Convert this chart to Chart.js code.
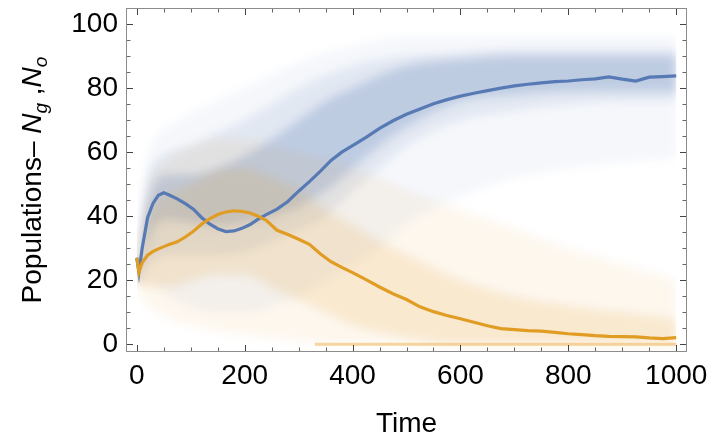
<!DOCTYPE html>
<html>
<head>
<meta charset="utf-8">
<script src="https://cdn.jsdelivr.net/npm/chart.js@4.4.1/dist/chart.umd.min.js"></script>
<style>
  html,body{margin:0;padding:0;background:#fff;}
  #wrap{width:722px;height:448px;position:relative;}
</style>
</head>
<body>
<div id="wrap"><canvas id="c" width="722" height="448"></canvas></div>
<script>
// ---- data ----
const times = [0,4,10,20,30,40,50,60,75,90,105,120,135,150,165,180,195,210,225,240,260,280,300,320,340,360,380,400,425,450,475,500,525,550,575,600,625,650,675,700,725,750,775,800,825,850,875,900,925,950,975,1000];
const ngMean = [27,22.5,30,39.5,44,46.5,47.3,46.6,45.4,43.9,42.2,39.6,37.6,36.1,35.2,35.4,36.2,37.4,39.1,40.5,42.2,44.6,47.8,50.8,54,57.4,60,62,64.6,67.4,69.8,71.8,73.5,75.1,76.4,77.5,78.4,79.2,80,80.7,81.2,81.6,82,82.2,82.6,82.9,83.5,82.8,82.2,83.4,83.6,83.8];
const noMean = [27,22.5,25.5,27.8,29,29.8,30.5,31.2,32,33.5,35.3,37.5,39.2,40.5,41.3,41.7,41.5,41,40,38.7,35.6,34.3,32.8,31.2,28.3,25.8,24,22.4,20.2,17.9,15.8,14,11.7,10.2,9,8,6.9,5.8,4.9,4.6,4.3,4.1,3.7,3.3,3,2.7,2.5,2.4,2.3,2.0,1.8,2.1];

const bandT        = [0,5,10,20,40,60,100,150,200,250,300,350,400,450,500,600,700,800,900,1000];
const blueOuterLo  = [18,18,20,20,18,15,12,10,10,12,15,20,25,30,38,46,52,55,57,58];
const blueOuterHi  = [28,30,45,58,66,68,72,76,80,84,88,91,93,95,96,96,96,96,96,96];
const blueMidLo    = [19,19,24,25,27,28,28,28,29,32,36,40,48,55,62,70,73,75,76,76];
const blueMidHi    = [27,28,40,52,58,60,62,66,70,75,80,84,87,89,90,91,92,92,92,92];
const blueCoreLo   = [20,20,26,32,38,39,38,37,38,40,43,48,55,62,68,76,78,79,79,79];
const blueCoreHi   = [26,27,34,44,52,53,53,55,59,64,70,76,80,84,87,89,90,90,90,90];
const orangeOuterLo= [18,17,15,12,10,8,6,4,3,2,1,0,0,0,0,0,0,0,0,0];
const orangeOuterHi= [28,28,35,48,55,58,62,64,64,62,60,58,55,52,48,42,36,30,25,20];
const orangeCoreLo = [19,19,18,18,18,18,20,22,22,18,14,10,6,4,2,0,0,0,0,0];
const orangeCoreHi = [27,27,32,40,45,47,50,54,55,52,48,42,37,32,28,20,15,12,10,8];
const extinctT     = [330,1000];
const extinctV     = [0,0];

const xTickLabels = [0,200,400,600,800,1000];
const yTickLabels = [0,20,40,60,80,100];
const xMinorStep = 50, yMinorStep = 5;

// ---- build datasets ----
const pts = (t, v) => t.map((x, i) => ({x, y: v[i]}));
const BLUE = [88,122,180], ORANGE = [225,156,36];
const rgba = (c, a) => `rgba(${c[0]},${c[1]},${c[2]},${a})`;

function band(lo, hi, col, a) {
  return [
    {data: pts(bandT, lo), borderWidth: 0, pointRadius: 0, fill: false, tension: 0.35, cubicInterpolationMode: 'monotone', borderColor: 'rgba(0,0,0,0)'},
    {data: pts(bandT, hi), borderWidth: 0, pointRadius: 0, fill: '-1', backgroundColor: rgba(col, a), tension: 0.35, cubicInterpolationMode: 'monotone', borderColor: 'rgba(0,0,0,0)'}
  ];
}

// first dataset is drawn on top
const datasets = [
  {label: 'No', data: pts(times, noMean), borderColor: rgba(ORANGE, 1), borderWidth: 3.2, pointRadius: 0, fill: false, tension: 0},
  {label: 'Ng', data: pts(times, ngMean), borderColor: rgba(BLUE, 1), borderWidth: 3.2, pointRadius: 0, fill: false, tension: 0},
  {label: 'extinct', data: pts(extinctT, extinctV), borderColor: 'rgba(236,180,90,0.55)', borderWidth: 3, pointRadius: 0, fill: false},
  ...band(orangeCoreLo, orangeCoreHi, ORANGE, 0.15),
  ...band(orangeOuterLo, orangeOuterHi, ORANGE, 0.08),
  ...band(blueCoreLo, blueCoreHi, BLUE, 0.26),
  ...band(blueMidLo, blueMidHi, BLUE, 0.12),
  ...band(blueOuterLo, blueOuterHi, BLUE, 0.06)
];
const LAST_BAND_INDEX = 3;

const FONT = '"Liberation Sans", Arial, Helvetica, sans-serif';

const decor = {
  id: 'decor',
  beforeDraw(chart) {
    const ctx = chart.ctx;
    ctx.save();
    ctx.fillStyle = '#fff';
    ctx.fillRect(0, 0, chart.width, chart.height);
    ctx.restore();
  },
  beforeDatasetsDraw(chart) {
    chart.ctx.filter = 'blur(5px)';
  },
  afterDatasetDraw(chart, args) {
    if (args.index === LAST_BAND_INDEX) chart.ctx.filter = 'none';
  },
  afterDatasetsDraw(chart) {
    const {ctx, chartArea: a, scales: {x, y}} = chart;
    ctx.filter = 'none';
    ctx.save();
    ctx.lineWidth = 1;
    ctx.strokeStyle = '#8c8c8c';
    ctx.strokeRect(Math.round(a.left) + 0.5, Math.round(a.top) + 0.5, Math.round(a.right - a.left) - 1, Math.round(a.bottom - a.top) - 1);
    const xmax = xTickLabels[xTickLabels.length - 1], ymax = yTickLabels[yTickLabels.length - 1];
    for (let v = xTickLabels[0]; v <= xmax; v += xMinorStep) {
      const major = xTickLabels.includes(v);
      const L = major ? 6 : 3.5;
      const px = Math.round(x.getPixelForValue(v)) + 0.5;
      ctx.strokeStyle = major ? '#444' : '#666';
      ctx.beginPath();
      ctx.moveTo(px, a.bottom - 1); ctx.lineTo(px, a.bottom - 1 - L);
      ctx.moveTo(px, a.top + 1); ctx.lineTo(px, a.top + 1 + L);
      ctx.stroke();
    }
    for (let v = yTickLabels[0]; v <= ymax; v += yMinorStep) {
      const major = yTickLabels.includes(v);
      const L = major ? 6 : 3.5;
      const py = Math.round(y.getPixelForValue(v)) + 0.5;
      ctx.strokeStyle = major ? '#444' : '#666';
      ctx.beginPath();
      ctx.moveTo(a.left + 1, py); ctx.lineTo(a.left + 1 + L, py);
      ctx.moveTo(a.right - 1, py); ctx.lineTo(a.right - 1 - L, py);
      ctx.stroke();
    }
    ctx.restore();
  },
  afterDraw(chart) {
    const {ctx, chartArea: a} = chart;
    ctx.save();
    ctx.fillStyle = '#000';
    ctx.font = `28px ${FONT}`;
    ctx.textAlign = 'center';
    ctx.textBaseline = 'alphabetic';
    ctx.fillText('Time', (a.left + a.right) / 2, 432);
    const segs = [
      {t: 'Populations\u2013 ', f: `28px ${FONT}`, dy: 0},
      {t: 'N', f: `italic 28px ${FONT}`, dy: 0},
      {t: 'g', f: `italic 19px ${FONT}`, dy: 6},
      {t: ' ,', f: `28px ${FONT}`, dy: 0},
      {t: 'N', f: `italic 28px ${FONT}`, dy: 0},
      {t: 'o', f: `italic 19px ${FONT}`, dy: 6}
    ];
    let total = 0;
    segs.forEach(s => { ctx.font = s.f; s.w = ctx.measureText(s.t).width; total += s.w; });
    ctx.translate(41, (a.top + a.bottom) / 2);
    ctx.rotate(-Math.PI / 2);
    ctx.textAlign = 'left';
    let cx = -total / 2;
    segs.forEach(s => { ctx.font = s.f; ctx.fillText(s.t, cx, s.dy); cx += s.w; });
    ctx.restore();
  }
};

const noPad = s => { s.paddingTop = 0; s.paddingBottom = 0; s.paddingLeft = 0; s.paddingRight = 0; };

new Chart(document.getElementById('c'), {
  type: 'line',
  data: {datasets},
  options: {
    responsive: false,
    animation: false,
    events: [],
    layout: {padding: {top: 8, right: 35, left: 0, bottom: 0}},
    plugins: {legend: {display: false}, tooltip: {enabled: false}},
    scales: {
      x: {
        type: 'linear', min: -20, max: 1020,
        grid: {display: false, drawTicks: false},
        border: {display: false},
        afterBuildTicks: s => { s.ticks = xTickLabels.map(v => ({value: v})); },
        afterFit: s => { s.height = 96; noPad(s); },
        ticks: {color: '#000', font: {family: FONT, size: 28}, padding: 7, maxRotation: 0, autoSkip: false, callback: v => String(v)}
      },
      y: {
        type: 'linear', min: -2.4, max: 105,
        grid: {display: false, drawTicks: false},
        border: {display: false},
        afterBuildTicks: s => { s.ticks = yTickLabels.map(v => ({value: v})); },
        afterFit: s => { s.width = 126; noPad(s); },
        ticks: {color: '#000', font: {family: FONT, size: 28}, padding: 8, autoSkip: false, callback: v => String(v)}
      }
    }
  },
  plugins: [decor]
});
</script>
</body>
</html>
